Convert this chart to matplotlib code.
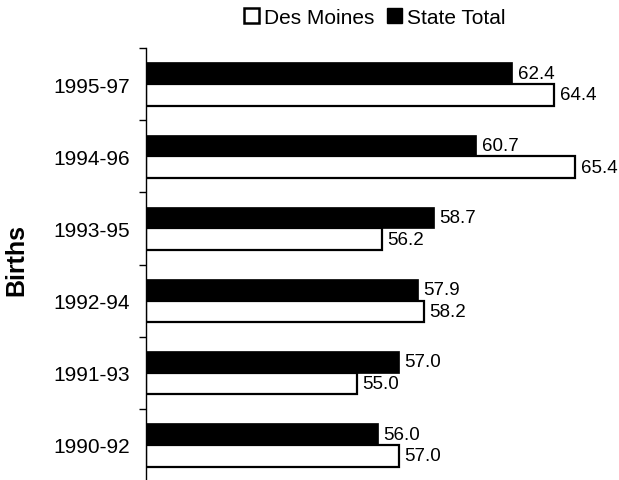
import matplotlib
matplotlib.use("Agg")
import matplotlib.pyplot as plt
from matplotlib.patches import Patch
import numpy as np

plt.rcParams['font.family'] = ['Liberation Sans', 'DejaVu Sans']

periods = ["1990-92", "1991-93", "1992-94", "1993-95", "1994-96", "1995-97"]
des_moines = [57.0, 55.0, 58.2, 56.2, 65.4, 64.4]
state_total = [56.0, 57.0, 57.9, 58.7, 60.7, 62.4]
series_names = ["Des Moines", "State Total"]
x_start = 45

fig = plt.figure(figsize=(6.19, 4.81), dpi=100)
ax = fig.add_axes([146/619, -0.002, (607-146)/619, 0.90])

y = np.arange(len(periods))
h = 0.3
ax.barh(y + h/2, np.array(state_total) - x_start, left=x_start, height=h,
        color="black", edgecolor="black", linewidth=0.5)
ax.barh(y - h/2, np.array(des_moines) - x_start, left=x_start, height=h,
        color="white", edgecolor="black", linewidth=1.6)

for yi, v in zip(y, state_total):
    ax.text(v + 0.25, yi + h/2, f"{v:.1f}", va="center", ha="left", fontsize=13.5)
for yi, v in zip(y, des_moines):
    ax.text(v + 0.25, yi - h/2, f"{v:.1f}", va="center", ha="left", fontsize=13.5)

ax.set_xlim(x_start, 66.9)
ax.set_ylim(-0.5, len(periods) - 0.5)
ax.set_yticks(y)
ax.set_yticklabels(periods, fontsize=15)
ax.set_yticks(np.arange(-0.5, len(periods), 1), minor=True)
ax.tick_params(axis="y", which="major", length=0, pad=11.5)
ax.tick_params(axis="y", which="minor", length=5, width=1, direction="out")
ax.set_xticks([])
for s in ["top", "right", "bottom"]:
    ax.spines[s].set_visible(False)
ax.spines["left"].set_linewidth(1)
ax.set_ylabel("")
fig.text(16/619, 1 - 260/481, "Births", rotation=90, fontsize=18, fontweight="bold",
         ha="center", va="center")

handles = [Patch(facecolor="white", edgecolor="black", linewidth=1.8),
           Patch(facecolor="black", edgecolor="black")]
fig.legend(handles, series_names, loc="center", bbox_to_anchor=(374.5/619, 1 - 18/481),
           ncol=2, frameon=False, fontsize=15, handlelength=0.72, handleheight=0.72,
           handletextpad=0.24, columnspacing=0.62, borderpad=0)

fig.savefig("out.png", dpi=100)
